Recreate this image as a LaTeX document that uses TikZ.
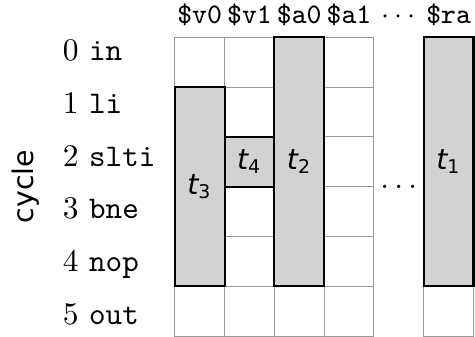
\documentclass[tikz,border=0pt]{standalone}
\usepackage{fontspec}
\newfontfamily\labfont{DejaVu Sans}
\usetikzlibrary{positioning}

\begin{document}
\begin{tikzpicture}[
  x=1cm, y=1cm,
  cell/.style={draw=gray!80, line width=0.6pt},
  busy/.style={draw=black, line width=1.2pt, fill=gray!35},
  reg/.style={font=\small\ttfamily, scale=1.8, anchor=base, inner sep=0.5pt},
  instr/.style={font=\normalsize, scale=1.8, anchor=base west, inner sep=0.5pt},
  tlab/.style={font=\small\labfont, scale=1.8}
]
  \useasboundingbox (-3.51,0.75) rectangle (6.03,-6.0);

  % grid of registers x cycles
  \foreach \c in {0,1,2,3,5}
    \foreach \r in {0,...,5}
      \draw[cell] (\c,-\r) rectangle ++(1,-1);

  % busy intervals
  \draw[busy] (0,-1) rectangle (1,-5);
  \draw[busy] (1,-2) rectangle (2,-3);
  \draw[busy] (2,0) rectangle (3,-5);
  \draw[busy] (5,0) rectangle (6,-5);
  \node[tlab] (t3) at (0.5,-3) {\itshape t\textsubscript{\upshape 3}};
  \node[tlab] (t4) at (1.5,-2.5) {\itshape t\textsubscript{\upshape 4}};
  \node[tlab] (t2) at (2.5,-2.5) {\itshape t\textsubscript{\upshape 2}};
  \node[tlab] (t1) at (5.5,-2.5) {\itshape t\textsubscript{\upshape 1}};
  \node[instr, anchor=base] (gap) at (4.5,-3.03) {$\dots$};

  % register names
  \node[reg] (v0) at (0.5,0.28) {\$v0};
  \node[reg] (v1) at (1.5,0.28) {\$v1};
  \node[reg] (a0) at (2.5,0.28) {\$a0};
  \node[reg] (a1) at (3.5,0.28) {\$a1};
  \node[reg] (more) at (4.5,0.28) {$\cdots$};
  \node[reg] (ra) at (5.5,0.28) {\$ra};

  % cycles
  \foreach \n/\ins in {0/in,1/li,2/slti,3/bne,4/nop,5/out}
    \node[instr] (c\n) at (-2.29,{-0.46-1.062*\n}) {\n\ \texttt{\ins}};
  \node[tlab, rotate=90] (cyc) at (-3.0,-3) {cycle};
\end{tikzpicture}
\end{document}
